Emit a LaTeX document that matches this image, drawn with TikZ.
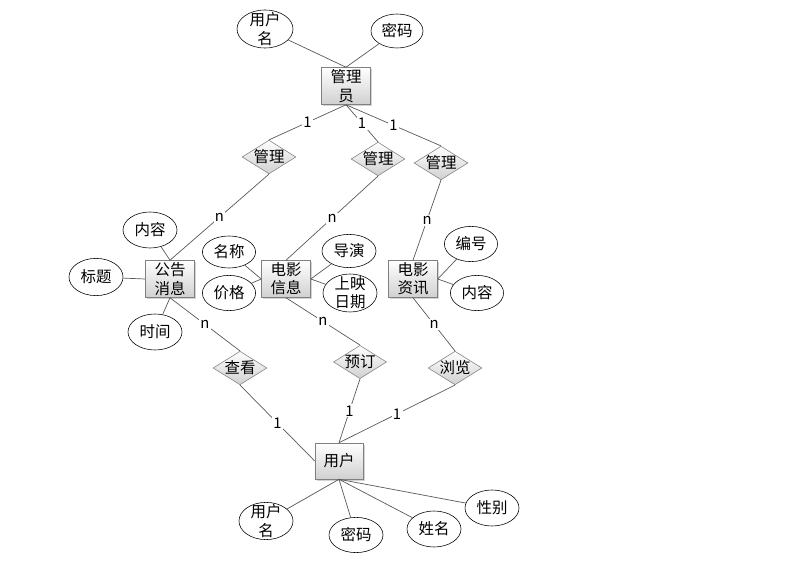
\documentclass[tikz,border=0pt]{standalone}
\usepackage{fontspec}
\setmainfont{Noto Sans CJK SC}
\usetikzlibrary{shapes.geometric, shadows}
\definecolor{linegray}{HTML}{595959}
\definecolor{boxgray}{HTML}{808080}
\definecolor{shadegray}{HTML}{D0D0D0}

\begin{document}
\begin{tikzpicture}[
    x=0.025cm, y=-0.025cm,
    every node/.style={font=\fontsize{11}{13}\selectfont},
    entity/.style={draw=boxgray, top color=white, bottom color=shadegray, minimum width=1.225cm, minimum height=0.925cm,
                   inner sep=0pt, align=center, drop shadow={shadow xshift=1.2pt, shadow yshift=-1.2pt, opacity=0.35}},
    attr/.style={draw=black, fill=white, ellipse, minimum width=1.35cm, minimum height=0.9cm,
                 inner xsep=0pt, inner ysep=-3pt, align=center},
    rel/.style={draw=boxgray, diamond, shape aspect=1.6, top color=white, middle color=white, bottom color=shadegray, inner sep=0pt},
    card/.style={fill=white, inner sep=1pt, font=\fontsize{10.5}{12}\selectfont},
    link/.style={draw=linegray, line width=0.5pt},
]

% Background
\useasboundingbox (0,0) rectangle (790,570);

% === Entities ===
\node[entity] (adm) at (346,86) {管理\\员};
\node[entity] (gg) at (170,279) {公告\\消息};
\node[entity] (dy) at (286,279) {电影\\信息};
\node[entity] (zx) at (413,279) {电影\\资讯};
\node[entity, minimum width=1.2cm, minimum height=0.9cm] (yh) at (339,461) {用户};

% === Relations ===
\node[rel] (mg1) at (269,157) {管理};
\node[rel] (mg2) at (378,159) {管理};
\node[rel] (mg3) at (441,163) {管理};
\node[rel] (ck) at (240,368) {查看};
\node[rel] (yd) at (360,362) {预订};
\node[rel] (ll) at (455,368) {浏览};

% === Attributes ===
\node[attr, minimum width=1.4cm, minimum height=0.95cm] (admName) at (265,29) {用户\\名};
\node[attr, minimum width=1.3cm, minimum height=0.85cm] (admPwd) at (397,31) {密码};

\node[attr] (ggContent) at (150,230) {内容};
\node[attr, minimum height=0.93cm] (ggTitle) at (96,277) {标题};
\node[attr] (ggTime) at (155,332) {时间};

\node[attr, minimum width=1.33cm, minimum height=0.8cm] (dyName) at (229,252) {名称};
\node[attr, minimum width=1.33cm, minimum height=0.88cm] (dyPrice) at (229,293) {价格};
\node[attr, minimum height=0.83cm] (dyDirector) at (349,251) {导演};
\node[attr, minimum height=0.95cm] (dyDate) at (350,293) {上映\\日期};

\node[attr, minimum width=1.33cm, minimum height=0.88cm] (zxNo) at (471,244) {编号};
\node[attr, minimum width=1.33cm, minimum height=0.88cm] (zxContent) at (477,293) {内容};

\node[attr, minimum height=0.93cm] (yhName) at (266,521) {用户\\名};
\node[attr, minimum height=0.88cm] (yhPwd) at (356,535) {密码};
\node[attr] (yhReal) at (434,529) {姓名};
\node[attr] (yhSex) at (492,508) {性别};

% === Attribute links ===
\draw[link] (admName) -- (adm.north);
\draw[link] (admPwd) -- (adm.north);
\draw[link] (ggContent) -- (gg.north);
\draw[link] (ggTitle) -- (gg.west);
\draw[link] (ggTime) -- (gg.south);
\draw[link] (dyName) -- (dy.west);
\draw[link] (dyPrice) -- (dy.west);
\draw[link] (dyDirector) -- (dy.east);
\draw[link] (dyDate) -- (dy.east);
\draw[link] (zxNo) -- (zx.east);
\draw[link] (zxContent) -- (zx.east);
\draw[link] (yh.south) -- (yhName);
\draw[link] (yh.south) -- (yhPwd);
\draw[link] (yh.south) -- (yhReal);
\draw[link] (yh.south) -- (yhSex);

% === Relation links with cardinality ===
\draw[link] (adm.south) -- node[card] {1} (mg1.north);
\draw[link] (adm.south) -- node[card] {1} (mg2.north);
\draw[link] (adm.south) -- node[card] {1} (mg3.north);
\draw[link] (mg1.south) -- node[card] {n} (gg.north);
\draw[link] (mg2.south) -- node[card] {n} (dy.north);
\draw[link] (mg3.south) -- node[card] {n} (zx.north);
\draw[link] (gg.south) -- node[card] {n} (ck.north);
\draw[link] (dy.south) -- node[card] {n} (yd.north);
\draw[link] (zx.south) -- node[card] {n} (ll.north);
\draw[link] (ck.south) -- node[card] {1} (yh.west);
\draw[link] (yd.south) -- node[card] {1} (yh.north);
\draw[link] (ll.south) -- node[card] {1} (yh.north);

\end{tikzpicture}
\end{document}
